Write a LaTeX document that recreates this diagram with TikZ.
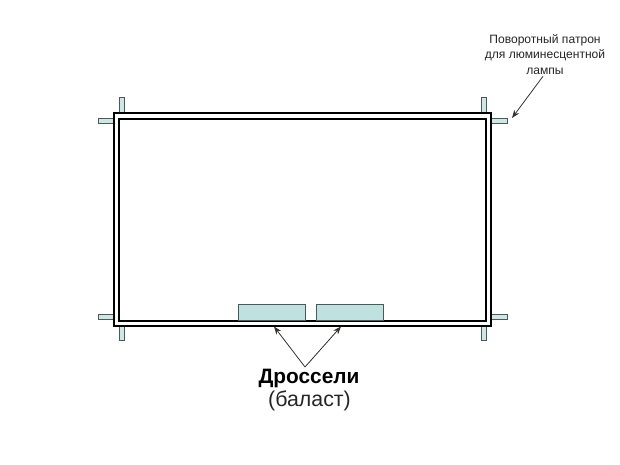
\documentclass[tikz,border=0pt]{standalone}
\usepackage{fontspec}
\setmainfont{Liberation Sans}
\usetikzlibrary{arrows.meta}
\definecolor{socketfill}{HTML}{CFE6E4}
\definecolor{ballastfill}{HTML}{BFE2E0}
\definecolor{socketedge}{HTML}{4A5A5A}
\tikzset{
	frameline/.style={line width=0.5mm, color=black},
	socketbox/.style={draw=socketedge, line width=0.25mm, fill=socketfill},
	ballastbox/.style={draw=socketedge, line width=0.25mm, fill=ballastfill},
	pointer/.style={-{Stealth[length=2mm,width=1.5mm]}, line width=0.2mm, color=black!80},
}

\begin{document}
\begin{tikzpicture}[x=0.025cm, y=-0.025cm]
	%%%%% START %%%%%
	\useasboundingbox (0, 0) rectangle (620, 465);
	
	\draw[socketbox] (119, 98) rectangle (124, 113);
	\draw[socketbox] (98, 119) rectangle (113, 124);
	\draw[socketbox] (481, 98) rectangle (486, 113);
	\draw[socketbox] (491, 119) rectangle (507, 124);
	
	\draw[socketbox] (98, 315) rectangle (113, 320);
	\draw[socketbox] (119, 326) rectangle (124, 341);
	\draw[socketbox] (491, 315) rectangle (507, 320);
	\draw[socketbox] (481, 326) rectangle (486, 341);
	
	\draw[frameline] (113.5, 113.5) rectangle (491, 326);
	\draw[frameline] (118.5, 119) rectangle (486, 321);
	
	\draw[ballastbox] (238, 305) rectangle (305.5, 320.5);
	\draw[ballastbox] (316, 305) rectangle (383, 320.5);
	
	\node[align=center, inner sep=0, font=\fontsize{8.6}{11}\selectfont, color=black!85] (lampnote) at (545, 54.5) {Поворотный патрон\\для люминесцентной\\лампы};
	\node[inner sep=0, font=\fontsize{14.8}{17}\bfseries\selectfont] (chokes) at (309, 378.5) {Дроссели};
	\node[inner sep=0, font=\fontsize{15.2}{18}\selectfont, color=black!85] (ballastnote) at (309.5, 400.5) {(баласт)};
	
	\coordinate (sockettip) at (512, 118);
	\coordinate (apex) at (305, 367);
	\coordinate (lefttip) at (274, 326.5);
	\coordinate (righttip) at (341, 326.5);
	
	\draw[pointer] (lampnote.south) ++(-2, 1.5) -- (sockettip);
	\draw[pointer] (apex) -- (lefttip);
	\draw[pointer] (apex) -- (righttip);
	%%%%% END %%%%%
\end{tikzpicture}
\end{document}
